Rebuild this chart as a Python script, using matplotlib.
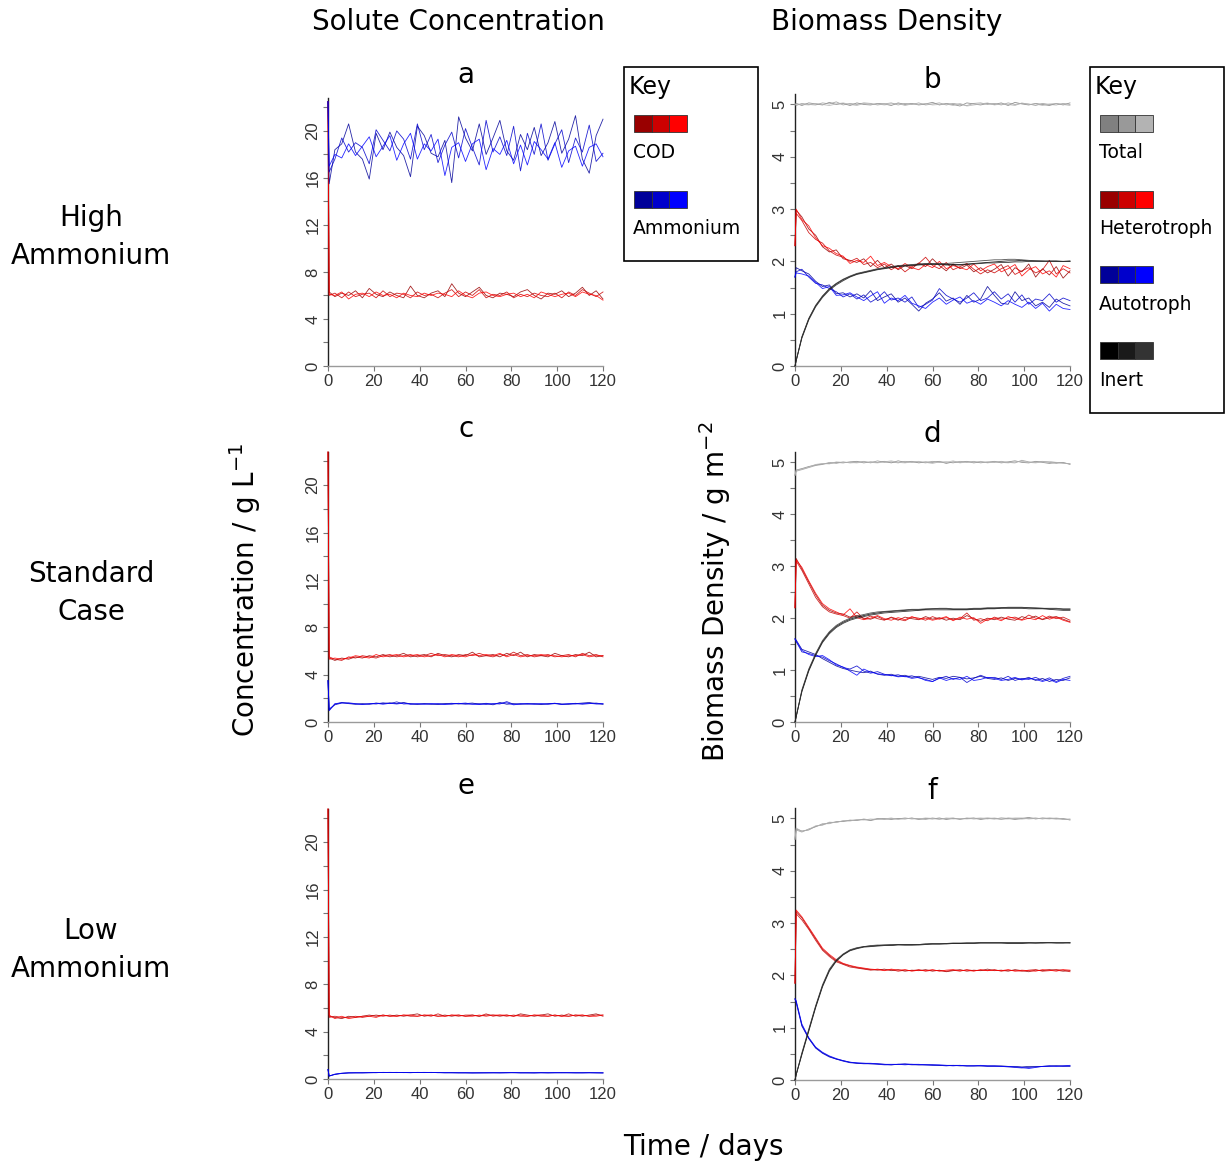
import matplotlib.pyplot as plt
from matplotlib.patches import Rectangle

# time axis (days)
days = [0, 0.5, 3, 6, 9, 12, 15, 18, 21, 24,
        27, 30, 33, 36, 39, 42, 45, 48, 51, 54,
        57, 60, 63, 66, 69, 72, 75, 78, 81, 84,
        87, 90, 93, 96, 99, 102, 105, 108, 111, 114,
        117, 120]

# ---- panel a: high ammonium, solutes (3 runs each) ----
cod_a = [
    [22.5, 6.3, 5.9, 6.2, 6.0, 6.4, 5.8, 6.6, 6.1, 5.9,
     6.3, 6.0, 5.8, 6.8, 6.0, 5.8, 6.2, 6.4, 5.9, 7.0,
     6.2, 5.9, 6.3, 6.7, 6.0, 5.8, 6.2, 6.1, 5.9, 6.3,
     6.5, 6.0, 5.7, 6.2, 6.1, 6.4, 5.9, 6.2, 6.7, 6.0,
     6.4, 5.7],
    [22.5, 6.0, 6.2, 5.8, 6.3, 5.9, 6.1, 6.2, 5.8, 6.4,
     5.9, 6.2, 6.1, 5.8, 6.3, 6.0, 6.1, 5.8, 6.2, 6.5,
     5.9, 6.3, 6.0, 6.5, 5.8, 6.1, 6.0, 6.3, 5.8, 6.1,
     5.9, 6.2, 6.0, 5.9, 6.2, 5.8, 6.3, 6.0, 6.5, 6.2,
     5.9, 6.3],
    [22.5, 6.1, 6.0, 6.3, 5.7, 6.1, 6.2, 5.9, 6.3, 6.0,
     6.1, 5.8, 6.2, 6.0, 5.9, 6.2, 6.0, 6.2, 6.1, 5.9,
     6.4, 6.0, 5.8, 6.2, 6.3, 6.0, 5.9, 6.1, 6.2, 5.9,
     6.1, 5.8, 6.3, 6.1, 5.9, 6.1, 6.2, 5.9, 6.3, 6.1,
     6.0, 5.6],
]
amm_a = [
    [22.5, 15.5, 18.4, 18.9, 20.6, 18.2, 17.6, 15.9, 19.8, 18.4,
     19.9, 18.6, 17.9, 16.1, 20.4, 19.6, 18.1, 17.8, 19.2, 15.6,
     21.2, 19.4, 18.3, 20.6, 18.0, 19.4, 20.9, 18.3, 17.5, 19.7,
     18.4, 20.3, 17.9, 19.0, 20.8, 18.1, 19.3, 21.3, 17.6, 16.4,
     19.6, 21.0],
    [22.5, 16.5, 17.6, 19.4, 18.2, 19.0, 18.6, 17.2, 20.1, 19.2,
     18.3, 20.0, 19.3, 17.6, 20.6, 18.4, 19.7, 17.3, 18.8, 19.9,
     17.7, 20.2, 18.6, 17.1, 20.9, 18.2, 19.5, 17.9, 20.4, 16.6,
     19.8, 18.0, 20.6, 17.5, 18.9, 20.1, 17.3, 19.4, 18.2, 20.5,
     17.4, 18.1],
    [22.5, 17.0, 18.0, 17.7, 18.9, 17.9, 18.7, 19.5, 17.8, 18.7,
     19.6, 17.5, 18.9, 19.8, 17.6, 18.9, 18.3, 19.3, 16.2, 18.6,
     19.0, 17.4, 18.9, 19.3, 16.7, 18.5, 18.0, 19.2, 17.2, 18.8,
     17.1, 19.1, 18.4, 17.6, 19.0, 16.9, 18.3, 18.7, 17.0, 18.6,
     18.9, 17.8],
]

# ---- panel b: high ammonium, biomass ----
tot_b = [
    [5.00, 5.02, 4.98, 5.03, 5.01, 4.99, 5.04, 5.00, 5.02, 4.98,
     5.03, 5.00, 4.99, 5.02, 5.01, 4.98, 5.03, 5.00, 5.02, 4.99,
     5.01, 5.04, 4.99, 5.02, 5.00, 4.97, 5.03, 5.01, 4.99, 5.02,
     5.00, 5.03, 4.98, 5.04, 5.01, 4.99, 5.02, 5.00, 4.98, 5.02,
     4.99, 5.03],
    [5.00, 4.98, 5.02, 5.00, 4.99, 5.03, 5.01, 5.05, 4.99, 5.02,
     5.00, 5.03, 5.02, 4.99, 5.01, 5.03, 4.99, 5.02, 5.00, 5.03,
     4.99, 5.01, 5.03, 4.99, 5.02, 5.00, 4.98, 5.02, 5.03, 5.00,
     5.02, 4.99, 5.03, 5.00, 5.02, 5.01, 4.98, 5.02, 5.00, 4.99,
     5.02, 5.00],
    [5.00, 5.01, 5.00, 4.99, 5.02, 5.00, 4.98, 5.01, 5.03, 5.00,
     4.98, 5.02, 5.00, 5.01, 4.99, 5.01, 5.02, 4.98, 5.01, 5.00,
     5.02, 4.99, 5.00, 5.01, 4.98, 5.02, 4.97, 4.99, 5.01, 5.03,
     4.99, 5.01, 5.00, 4.98, 5.03, 5.00, 5.01, 4.98, 5.01, 5.02,
     5.00, 4.98],
]
het_b = [
    [2.30, 2.98, 2.85, 2.62, 2.50, 2.28, 2.18, 2.22, 2.05, 2.02,
     1.98, 2.05, 1.90, 2.02, 1.88, 1.95, 1.84, 1.92, 1.86, 1.97,
     1.90, 2.05, 1.92, 1.82, 1.95, 1.86, 1.93, 1.80, 1.88, 1.78,
     1.85, 1.94, 1.72, 1.88, 1.80, 1.95, 1.70, 1.86, 1.74, 1.90,
     1.68, 1.82],
    [2.30, 2.92, 2.78, 2.55, 2.42, 2.35, 2.20, 2.12, 2.08, 2.00,
     2.06, 1.94, 1.98, 1.88, 1.95, 1.84, 1.92, 1.80, 1.90, 1.96,
     2.08, 1.92, 1.86, 1.98, 1.84, 1.90, 1.96, 1.85, 1.76, 1.84,
     1.78, 1.86, 1.92, 1.75, 1.82, 1.88, 1.78, 1.84, 2.02, 1.76,
     1.86, 1.78],
    [2.30, 3.00, 2.80, 2.68, 2.45, 2.30, 2.25, 2.15, 2.10, 1.96,
     2.02, 1.98, 2.10, 1.92, 1.98, 1.90, 1.86, 1.96, 1.88, 1.84,
     1.94, 1.88, 2.00, 1.86, 1.92, 1.88, 1.84, 1.95, 1.82, 1.90,
     1.95, 1.80, 1.86, 1.94, 1.72, 1.84, 1.90, 1.76, 1.82, 1.70,
     1.92, 1.86],
]
aut_b = [
    [1.70, 1.88, 1.82, 1.76, 1.62, 1.52, 1.55, 1.38, 1.40, 1.32,
     1.38, 1.30, 1.44, 1.25, 1.32, 1.38, 1.22, 1.30, 1.18, 1.05,
     1.20, 1.28, 1.40, 1.24, 1.30, 1.18, 1.35, 1.22, 1.28, 1.52,
     1.35, 1.20, 1.18, 1.42, 1.25, 1.30, 1.15, 1.22, 1.12, 1.28,
     1.20, 1.15],
    [1.70, 1.80, 1.85, 1.70, 1.58, 1.55, 1.48, 1.42, 1.32, 1.38,
     1.28, 1.36, 1.22, 1.30, 1.42, 1.26, 1.30, 1.22, 1.32, 1.12,
     1.18, 1.26, 1.48, 1.35, 1.28, 1.22, 1.30, 1.40, 1.25, 1.30,
     1.42, 1.28, 1.38, 1.22, 1.36, 1.18, 1.28, 1.25, 1.38, 1.22,
     1.30, 1.25],
    [1.70, 1.78, 1.76, 1.72, 1.60, 1.48, 1.52, 1.35, 1.36, 1.40,
     1.32, 1.25, 1.34, 1.42, 1.20, 1.30, 1.25, 1.35, 1.20, 1.15,
     1.10, 1.22, 1.30, 1.18, 1.26, 1.32, 1.20, 1.25, 1.18, 1.28,
     1.22, 1.15, 1.25, 1.18, 1.12, 1.22, 1.10, 1.20, 1.05, 1.18,
     1.10, 1.08],
]
ine_b = [
    [0.00, 0.10, 0.55, 0.90, 1.15, 1.33, 1.47, 1.57, 1.65, 1.71,
     1.76, 1.79, 1.82, 1.85, 1.87, 1.89, 1.91, 1.92, 1.93, 1.94,
     1.95, 1.95, 1.95, 1.94, 1.94, 1.94, 1.95, 1.96, 1.97, 1.98,
     1.99, 2.00, 2.01, 2.01, 2.02, 2.01, 2.01, 2.01, 2.00, 2.00,
     2.00, 2.00],
    [0.00, 0.10, 0.53, 0.88, 1.13, 1.31, 1.45, 1.55, 1.63, 1.70,
     1.75, 1.78, 1.81, 1.84, 1.86, 1.88, 1.90, 1.91, 1.92, 1.93,
     1.94, 1.94, 1.94, 1.93, 1.93, 1.93, 1.94, 1.95, 1.96, 1.97,
     1.97, 1.98, 1.98, 1.99, 1.99, 2.00, 2.00, 2.00, 2.01, 2.01,
     2.00, 2.01],
    [0.00, 0.10, 0.56, 0.91, 1.16, 1.34, 1.48, 1.58, 1.66, 1.72,
     1.77, 1.80, 1.83, 1.86, 1.88, 1.90, 1.92, 1.93, 1.94, 1.95,
     1.96, 1.96, 1.96, 1.96, 1.97, 1.98, 1.99, 2.00, 2.01, 2.02,
     2.03, 2.03, 2.04, 2.04, 2.03, 2.02, 2.01, 2.00, 2.00, 2.00,
     2.00, 2.00],
]

# ---- panel c: standard case, solutes ----
cod_c = [
    [22.8, 5.4, 5.2, 5.4, 5.3, 5.5, 5.4, 5.6, 5.5, 5.7,
     5.5, 5.6, 5.8, 5.5, 5.6, 5.7, 5.5, 5.8, 5.6, 5.5,
     5.7, 5.6, 5.9, 5.5, 5.6, 5.7, 5.5, 5.8, 5.6, 5.9,
     5.5, 5.7, 5.6, 5.5, 5.8, 5.6, 5.5, 5.7, 5.6, 5.9,
     5.5, 5.6],
    [22.8, 5.5, 5.3, 5.2, 5.5, 5.4, 5.6, 5.5, 5.4, 5.6,
     5.7, 5.5, 5.6, 5.7, 5.5, 5.6, 5.8, 5.6, 5.7, 5.6,
     5.5, 5.7, 5.6, 5.8, 5.6, 5.5, 5.7, 5.6, 5.9, 5.6,
     5.7, 5.5, 5.6, 5.7, 5.5, 5.6, 5.7, 5.5, 5.8, 5.6,
     5.7, 5.5],
    [22.8, 5.3, 5.4, 5.3, 5.4, 5.6, 5.5, 5.4, 5.7, 5.5,
     5.6, 5.7, 5.5, 5.6, 5.7, 5.5, 5.6, 5.7, 5.5, 5.7,
     5.6, 5.5, 5.7, 5.6, 5.7, 5.6, 5.8, 5.5, 5.7, 5.5,
     5.6, 5.6, 5.7, 5.6, 5.6, 5.5, 5.6, 5.6, 5.7, 5.5,
     5.6, 5.6],
]
amm_c = [
    [3.5, 1.0, 1.5, 1.65, 1.55, 1.50, 1.55, 1.50, 1.60, 1.55,
     1.62, 1.55, 1.65, 1.52, 1.50, 1.55, 1.52, 1.48, 1.55, 1.58,
     1.52, 1.55, 1.60, 1.50, 1.58, 1.45, 1.65, 1.50, 1.55, 1.50,
     1.55, 1.52, 1.48, 1.55, 1.58, 1.52, 1.50, 1.55, 1.60, 1.65,
     1.55, 1.50],
    [3.5, 1.1, 1.45, 1.60, 1.62, 1.55, 1.48, 1.55, 1.52, 1.62,
     1.55, 1.70, 1.52, 1.55, 1.50, 1.53, 1.50, 1.55, 1.52, 1.50,
     1.58, 1.50, 1.52, 1.55, 1.48, 1.55, 1.52, 1.72, 1.50, 1.55,
     1.50, 1.55, 1.52, 1.50, 1.55, 1.48, 1.52, 1.58, 1.50, 1.55,
     1.60, 1.52],
    [3.5, 0.95, 1.55, 1.62, 1.58, 1.52, 1.50, 1.52, 1.58, 1.50,
     1.58, 1.52, 1.60, 1.50, 1.55, 1.50, 1.55, 1.52, 1.48, 1.55,
     1.55, 1.60, 1.50, 1.48, 1.55, 1.52, 1.58, 1.62, 1.45, 1.52,
     1.55, 1.50, 1.55, 1.52, 1.58, 1.50, 1.55, 1.52, 1.55, 1.58,
     1.52, 1.55],
]

# ---- panel d: standard case, biomass ----
tot_d = [
    [4.75, 4.85, 4.88, 4.92, 4.95, 4.97, 4.98, 5.00, 4.99, 5.01,
     5.02, 4.99, 5.01, 5.00, 5.02, 4.99, 5.03, 5.00, 5.02, 4.99,
     5.01, 5.00, 5.02, 4.98, 5.01, 5.00, 5.02, 4.99, 5.01, 5.00,
     5.02, 4.99, 5.01, 5.03, 5.00, 4.99, 5.02, 5.00, 4.98, 5.00,
     4.99, 4.97],
    [4.75, 4.83, 4.86, 4.90, 4.94, 4.96, 5.00, 4.98, 5.01, 4.99,
     5.00, 5.02, 4.99, 5.03, 5.00, 5.01, 4.99, 5.02, 5.00, 5.01,
     4.99, 5.02, 5.00, 5.01, 4.99, 5.02, 5.00, 5.02, 4.99, 5.01,
     5.00, 5.02, 5.00, 4.99, 5.04, 5.01, 5.00, 5.02, 5.00, 4.98,
     5.00, 4.96],
    [4.75, 4.86, 4.87, 4.91, 4.96, 4.98, 4.97, 5.01, 5.00, 5.00,
     4.99, 5.01, 5.00, 4.99, 5.01, 5.03, 5.00, 4.99, 5.01, 5.02,
     5.00, 4.98, 5.01, 5.00, 5.03, 4.99, 5.01, 5.00, 5.02, 4.99,
     5.01, 5.00, 4.99, 5.01, 5.02, 5.00, 4.99, 5.01, 5.02, 5.00,
     4.98, 4.98],
]
het_d = [
    [2.20, 3.15, 2.95, 2.70, 2.45, 2.25, 2.15, 2.10, 2.08, 2.02,
     2.05, 2.00, 1.98, 2.03, 1.97, 2.01, 1.96, 2.02, 1.99, 1.97,
     2.03, 1.98, 2.01, 1.96, 2.00, 1.97, 2.05, 1.99, 1.94, 2.00,
     1.97, 2.02, 1.98, 1.96, 2.03, 1.99, 2.04, 1.97, 2.01, 2.03,
     1.98, 1.93],
    [2.20, 3.10, 2.92, 2.66, 2.40, 2.22, 2.12, 2.08, 2.05, 2.00,
     2.12, 1.98, 2.04, 1.99, 1.96, 2.02, 1.98, 1.95, 2.02, 2.00,
     1.96, 2.03, 1.98, 2.01, 1.97, 1.99, 2.10, 1.96, 1.99, 1.95,
     2.02, 1.98, 2.00, 2.02, 1.97, 2.06, 2.00, 1.98, 2.04, 1.99,
     2.02, 1.96],
    [2.20, 3.12, 2.98, 2.72, 2.48, 2.28, 2.18, 2.12, 2.06, 2.18,
     2.01, 1.97, 2.00, 2.05, 1.99, 1.96, 2.01, 1.97, 2.03, 1.98,
     2.00, 1.96, 1.99, 2.03, 1.95, 2.02, 1.98, 2.01, 1.90, 1.98,
     2.00, 1.95, 2.03, 1.99, 1.96, 2.00, 1.97, 2.05, 1.98, 2.02,
     1.96, 1.92],
]
aut_d = [
    [1.60, 1.58, 1.40, 1.35, 1.30, 1.22, 1.15, 1.08, 1.03, 1.00,
     0.97, 0.95, 0.98, 0.92, 0.90, 0.92, 0.88, 0.90, 0.86, 0.88,
     0.85, 0.82, 0.86, 0.84, 0.88, 0.86, 0.83, 0.85, 0.88, 0.84,
     0.82, 0.85, 0.80, 0.84, 0.82, 0.86, 0.80, 0.84, 0.78, 0.82,
     0.80, 0.85],
    [1.60, 1.55, 1.35, 1.32, 1.28, 1.25, 1.18, 1.12, 1.05, 1.02,
     1.08, 0.98, 0.94, 0.97, 0.92, 0.89, 0.91, 0.87, 0.89, 0.85,
     0.82, 0.78, 0.84, 0.88, 0.82, 0.86, 0.76, 0.84, 0.90, 0.85,
     0.86, 0.82, 0.88, 0.80, 0.84, 0.82, 0.86, 0.80, 0.85, 0.78,
     0.84, 0.88],
    [1.60, 1.56, 1.38, 1.30, 1.26, 1.28, 1.20, 1.10, 1.06, 0.98,
     0.90, 1.02, 0.96, 0.93, 0.91, 0.90, 0.87, 0.88, 0.84, 0.86,
     0.80, 0.78, 0.85, 0.80, 0.84, 0.82, 0.88, 0.80, 0.82, 0.86,
     0.84, 0.80, 0.82, 0.86, 0.81, 0.84, 0.82, 0.78, 0.82, 0.76,
     0.82, 0.80],
]
ine_d = [
    [0.00, 0.10, 0.60, 1.00, 1.30, 1.55, 1.72, 1.84, 1.92, 1.98,
     2.02, 2.05, 2.08, 2.10, 2.12, 2.13, 2.14, 2.15, 2.16, 2.16,
     2.17, 2.18, 2.18, 2.18, 2.17, 2.17, 2.17, 2.18, 2.18, 2.19,
     2.19, 2.20, 2.20, 2.20, 2.20, 2.20, 2.19, 2.19, 2.18, 2.18,
     2.17, 2.17],
    [0.00, 0.10, 0.58, 0.98, 1.28, 1.53, 1.70, 1.82, 1.90, 1.96,
     2.00, 2.03, 2.06, 2.08, 2.10, 2.11, 2.12, 2.13, 2.14, 2.15,
     2.16, 2.16, 2.16, 2.16, 2.16, 2.16, 2.16, 2.17, 2.17, 2.18,
     2.18, 2.19, 2.19, 2.19, 2.19, 2.18, 2.18, 2.18, 2.17, 2.16,
     2.15, 2.15],
    [0.00, 0.10, 0.62, 1.02, 1.32, 1.57, 1.74, 1.86, 1.94, 2.00,
     2.04, 2.07, 2.10, 2.12, 2.13, 2.14, 2.15, 2.16, 2.17, 2.17,
     2.18, 2.18, 2.19, 2.19, 2.18, 2.18, 2.18, 2.19, 2.19, 2.20,
     2.20, 2.20, 2.21, 2.21, 2.21, 2.20, 2.20, 2.19, 2.19, 2.19,
     2.18, 2.18],
]

# ---- panel e: low ammonium, solutes ----
cod_e = [
    [22.8, 5.3, 5.2, 5.1, 5.3, 5.2, 5.3, 5.4, 5.3, 5.4,
     5.3, 5.4, 5.3, 5.4, 5.5, 5.3, 5.4, 5.3, 5.4, 5.3,
     5.4, 5.3, 5.4, 5.3, 5.4, 5.4, 5.3, 5.4, 5.3, 5.5,
     5.4, 5.3, 5.4, 5.5, 5.3, 5.4, 5.3, 5.4, 5.3, 5.4,
     5.5, 5.3],
    [22.8, 5.2, 5.3, 5.2, 5.2, 5.3, 5.2, 5.3, 5.4, 5.3,
     5.4, 5.3, 5.4, 5.3, 5.3, 5.4, 5.3, 5.5, 5.3, 5.4,
     5.3, 5.4, 5.4, 5.3, 5.5, 5.3, 5.4, 5.3, 5.4, 5.3,
     5.3, 5.4, 5.3, 5.3, 5.4, 5.3, 5.5, 5.3, 5.4, 5.3,
     5.4, 5.4],
    [22.8, 5.4, 5.1, 5.3, 5.1, 5.2, 5.3, 5.3, 5.2, 5.4,
     5.3, 5.3, 5.4, 5.4, 5.3, 5.4, 5.4, 5.3, 5.3, 5.4,
     5.4, 5.3, 5.3, 5.4, 5.3, 5.4, 5.4, 5.4, 5.3, 5.4,
     5.3, 5.4, 5.4, 5.3, 5.4, 5.3, 5.3, 5.4, 5.4, 5.3,
     5.3, 5.4],
]
amm_e = [
    [0.80, 0.25, 0.40, 0.48, 0.52, 0.52, 0.53, 0.53, 0.54, 0.55,
     0.56, 0.55, 0.54, 0.54, 0.55, 0.56, 0.55, 0.54, 0.53, 0.53,
     0.52, 0.52, 0.52, 0.52, 0.52, 0.53, 0.52, 0.53, 0.54, 0.53,
     0.52, 0.52, 0.53, 0.52, 0.53, 0.54, 0.53, 0.52, 0.53, 0.53,
     0.52, 0.52],
    [0.80, 0.26, 0.38, 0.47, 0.51, 0.52, 0.52, 0.54, 0.53, 0.56,
     0.55, 0.54, 0.55, 0.53, 0.56, 0.55, 0.54, 0.55, 0.52, 0.54,
     0.53, 0.52, 0.51, 0.53, 0.52, 0.52, 0.53, 0.54, 0.52, 0.52,
     0.53, 0.51, 0.54, 0.52, 0.52, 0.53, 0.52, 0.53, 0.52, 0.54,
     0.52, 0.51],
    [0.80, 0.24, 0.41, 0.49, 0.52, 0.53, 0.52, 0.53, 0.55, 0.54,
     0.55, 0.56, 0.54, 0.55, 0.55, 0.54, 0.56, 0.53, 0.54, 0.52,
     0.52, 0.53, 0.52, 0.51, 0.53, 0.53, 0.52, 0.52, 0.55, 0.52,
     0.52, 0.53, 0.52, 0.53, 0.54, 0.52, 0.54, 0.52, 0.52, 0.52,
     0.53, 0.52],
]

# ---- panel f: low ammonium, biomass ----
tot_f = [
    [4.60, 4.80, 4.76, 4.78, 4.85, 4.88, 4.92, 4.93, 4.95, 4.96,
     4.97, 4.98, 4.96, 4.99, 5.00, 4.98, 5.00, 4.99, 5.01, 4.98,
     5.00, 4.99, 5.01, 4.98, 5.00, 4.99, 5.00, 5.01, 4.98, 5.00,
     4.99, 5.01, 5.00, 4.98, 5.00, 5.02, 4.99, 5.01, 5.00, 4.99,
     5.00, 4.97],
    [4.60, 4.78, 4.74, 4.80, 4.84, 4.90, 4.90, 4.94, 4.94, 4.97,
     4.96, 4.99, 4.97, 5.00, 4.98, 5.00, 4.99, 5.01, 4.99, 5.00,
     4.98, 5.01, 4.99, 5.00, 5.01, 4.98, 5.01, 4.99, 5.00, 5.01,
     5.00, 4.98, 5.01, 5.00, 4.99, 5.00, 5.01, 4.99, 5.01, 5.00,
     4.98, 4.99],
    [4.60, 4.82, 4.75, 4.79, 4.86, 4.87, 4.93, 4.92, 4.96, 4.95,
     4.98, 4.97, 4.99, 4.98, 4.99, 5.01, 4.98, 5.00, 5.00, 4.99,
     5.01, 5.00, 4.98, 5.01, 4.99, 5.00, 4.99, 5.00, 5.01, 4.99,
     5.01, 4.99, 4.99, 5.01, 5.01, 4.99, 5.00, 5.00, 4.99, 5.01,
     4.99, 4.98],
]
het_f = [
    [1.85, 3.22, 3.10, 2.90, 2.70, 2.50, 2.38, 2.28, 2.22, 2.18,
     2.15, 2.13, 2.11, 2.10, 2.12, 2.09, 2.11, 2.08, 2.10, 2.09,
     2.11, 2.08, 2.10, 2.07, 2.09, 2.11, 2.08, 2.10, 2.09, 2.12,
     2.09, 2.10, 2.08, 2.11, 2.09, 2.07, 2.10, 2.09, 2.11, 2.10,
     2.08, 2.09],
    [1.85, 3.18, 3.06, 2.88, 2.67, 2.48, 2.36, 2.26, 2.21, 2.16,
     2.14, 2.12, 2.10, 2.12, 2.10, 2.11, 2.08, 2.10, 2.09, 2.11,
     2.08, 2.10, 2.09, 2.08, 2.10, 2.08, 2.11, 2.09, 2.10, 2.09,
     2.11, 2.08, 2.10, 2.09, 2.08, 2.10, 2.11, 2.08, 2.09, 2.11,
     2.10, 2.07],
    [1.85, 3.25, 3.12, 2.92, 2.72, 2.52, 2.40, 2.30, 2.23, 2.19,
     2.16, 2.14, 2.12, 2.11, 2.09, 2.12, 2.10, 2.11, 2.08, 2.10,
     2.09, 2.11, 2.08, 2.10, 2.11, 2.09, 2.10, 2.08, 2.11, 2.09,
     2.10, 2.09, 2.11, 2.08, 2.10, 2.09, 2.08, 2.11, 2.10, 2.08,
     2.11, 2.10],
]
aut_f = [
    [1.55, 1.50, 1.05, 0.80, 0.62, 0.52, 0.45, 0.40, 0.37, 0.34,
     0.32, 0.32, 0.31, 0.31, 0.30, 0.29, 0.30, 0.30, 0.29, 0.29,
     0.29, 0.29, 0.28, 0.28, 0.28, 0.27, 0.27, 0.27, 0.27, 0.27,
     0.27, 0.27, 0.26, 0.26, 0.25, 0.26, 0.26, 0.26, 0.27, 0.27,
     0.27, 0.27],
    [1.55, 1.48, 1.03, 0.79, 0.61, 0.51, 0.44, 0.40, 0.36, 0.33,
     0.32, 0.31, 0.31, 0.30, 0.29, 0.29, 0.30, 0.31, 0.30, 0.29,
     0.29, 0.28, 0.28, 0.27, 0.28, 0.28, 0.27, 0.27, 0.27, 0.26,
     0.26, 0.26, 0.25, 0.24, 0.23, 0.24, 0.25, 0.26, 0.26, 0.27,
     0.26, 0.26],
    [1.55, 1.52, 1.07, 0.81, 0.63, 0.53, 0.46, 0.41, 0.37, 0.34,
     0.33, 0.32, 0.32, 0.31, 0.30, 0.30, 0.30, 0.29, 0.30, 0.30,
     0.29, 0.29, 0.29, 0.28, 0.27, 0.28, 0.27, 0.27, 0.28, 0.27,
     0.27, 0.26, 0.26, 0.25, 0.24, 0.22, 0.24, 0.26, 0.27, 0.26,
     0.27, 0.28],
]
ine_f = [
    [0.00, 0.10, 0.50, 0.95, 1.40, 1.80, 2.10, 2.28, 2.40, 2.48,
     2.52, 2.55, 2.56, 2.57, 2.58, 2.58, 2.59, 2.59, 2.59, 2.59,
     2.60, 2.60, 2.60, 2.61, 2.61, 2.61, 2.62, 2.62, 2.62, 2.62,
     2.62, 2.62, 2.62, 2.62, 2.62, 2.62, 2.62, 2.62, 2.62, 2.62,
     2.62, 2.62],
    [0.00, 0.10, 0.48, 0.93, 1.38, 1.78, 2.08, 2.27, 2.39, 2.47,
     2.51, 2.54, 2.55, 2.56, 2.57, 2.57, 2.58, 2.58, 2.58, 2.58,
     2.59, 2.60, 2.60, 2.60, 2.61, 2.61, 2.61, 2.61, 2.62, 2.62,
     2.62, 2.62, 2.61, 2.61, 2.61, 2.62, 2.62, 2.63, 2.63, 2.62,
     2.62, 2.63],
    [0.00, 0.10, 0.52, 0.97, 1.42, 1.82, 2.12, 2.30, 2.41, 2.49,
     2.53, 2.55, 2.57, 2.58, 2.58, 2.59, 2.59, 2.58, 2.58, 2.59,
     2.60, 2.61, 2.61, 2.61, 2.62, 2.62, 2.62, 2.62, 2.63, 2.63,
     2.63, 2.63, 2.63, 2.63, 2.63, 2.63, 2.62, 2.62, 2.63, 2.63,
     2.63, 2.62],
]

reds = ['#990000', '#cc0000', '#ff0000']
blues = ['#000099', '#0000cc', '#0000ff']
greys = ['#808080', '#999999', '#b3b3b3']
blacks = ['#000000', '#1a1a1a', '#333333']

W, H = 1225, 1167
fig = plt.figure(figsize=(W / 100, H / 100), dpi=100)
plt.rcParams['font.family'] = 'DejaVu Sans'

# overlay in pixel coords for labels and keys
bg = fig.add_axes([0, 0, 1, 1])
bg.set_xlim(0, W)
bg.set_ylim(H, 0)
bg.axis('off')


def make_axes(x0, x1, y0, y1):
    return fig.add_axes([x0 / W, 1 - y1 / H, (x1 - x0) / W, (y1 - y0) / H])


def style(ax, top, yticks, ylabels):
    ax.set_facecolor('none')
    ax.set_xlim(0, 120)
    ax.set_ylim(0, top)
    for s in ['top', 'right']:
        ax.spines[s].set_visible(False)
    ax.spines['left'].set_color('#222222')
    ax.spines['bottom'].set_color('#9a9a9a')
    ax.spines['left'].set_linewidth(1.0)
    ax.spines['bottom'].set_linewidth(1.0)
    ax.set_xticks([0, 20, 40, 60, 80, 100, 120])
    ax.set_yticks(yticks)
    ax.set_yticklabels(ylabels)
    ax.tick_params(length=3.5, width=0.8, color='#777777', pad=2,
                   labelsize=12, labelcolor='#333333')
    ax.tick_params(axis='y', labelrotation=90)
    for lab in ax.get_xticklabels() + ax.get_yticklabels():
        lab.set_fontfamily('Liberation Sans')
    for lab in ax.get_yticklabels():
        lab.set_va('center')


conc_ticks = [0, 2, 4, 6, 8, 10, 12, 14, 16, 18, 20, 22]
conc_labels = ['0', '', '4', '', '8', '', '12', '', '16', '', '20', '']
bio_ticks = [0, 0.5, 1, 1.5, 2, 2.5, 3, 3.5, 4, 4.5, 5]
bio_labels = ['0', '', '1', '', '2', '', '3', '', '4', '', '5']

rows = [
    ((98, 366), (94, 366), cod_a, amm_a, tot_b, het_b, aut_b, ine_b, 'a', 'b'),
    ((452, 722), (452, 722), cod_c, amm_c, tot_d, het_d, aut_d, ine_d, 'c', 'd'),
    ((809, 1079), (808, 1080), cod_e, amm_e, tot_f, het_f, aut_f, ine_f, 'e', 'f'),
]

for (cy, by, cod, amm, tot, het, aut, ine, la, lb) in rows:
    ax = make_axes(328, 603, cy[0], cy[1])
    for runs, cols in [(cod, reds), (amm, blues)]:
        for r, c in zip(runs, cols):
            ax.plot(days, r, color=c, lw=0.6, alpha=0.85, zorder=3,
                    clip_on=False)
    style(ax, 22.8, conc_ticks, conc_labels)
    bg.text(466, cy[0] - 23, la, fontsize=20, ha='center', va='center')

    ax = make_axes(795, 1070, by[0], by[1])
    for runs, cols in [(tot, greys), (het, reds), (aut, blues), (ine, blacks)]:
        for r, c in zip(runs, cols):
            ax.plot(days, r, color=c, lw=0.6, alpha=0.85, zorder=3,
                    clip_on=False)
    style(ax, 5.2, bio_ticks, bio_labels)
    bg.text(932, cy[0] - 18, lb, fontsize=20, ha='center', va='center')

# headings and row labels
bg.text(458, 22, 'Solute Concentration', fontsize=20, ha='center', va='center')
bg.text(887, 22, 'Biomass Density', fontsize=20, ha='center', va='center')
for y, txt in [(237, 'High\nAmmonium'), (593, 'Standard\nCase'), (950, 'Low\nAmmonium')]:
    bg.text(91, y, txt, fontsize=20, ha='center', va='center', linespacing=1.45)
bg.text(245, 590, 'Concentration / g L$^{-1}$', fontsize=20, rotation=90,
        ha='center', va='center')
bg.text(715, 592, 'Biomass Density / g m$^{-2}$', fontsize=20, rotation=90,
        ha='center', va='center')
bg.text(703, 1147, 'Time / days', fontsize=20, ha='center', va='center')


def key(x0, y0, x1, y1, entries):
    bg.add_patch(Rectangle((x0, y0), x1 - x0, y1 - y0, fill=False,
                           ec='black', lw=1.2))
    bg.text(x0 + 5, y0 + 20, 'Key', fontsize=17, ha='left', va='center')
    for i, (name, cols) in enumerate(entries):
        sy = y0 + 48 + i * 75.7
        for j, c in enumerate(cols):
            bg.add_patch(Rectangle((x0 + 10 + j * 17.7, sy), 17.7, 17,
                                   fc=c, ec='#333333', lw=0.6))
        bg.text(x0 + 9, sy + 38, name, fontsize=13.5, ha='left', va='center')


key(624, 67, 758, 261, [('COD', reds), ('Ammonium', blues)])
key(1090, 67, 1224, 413, [('Total', greys), ('Heterotroph', reds),
                          ('Autotroph', blues), ('Inert', blacks)])

fig.savefig('out.png', dpi=100)
